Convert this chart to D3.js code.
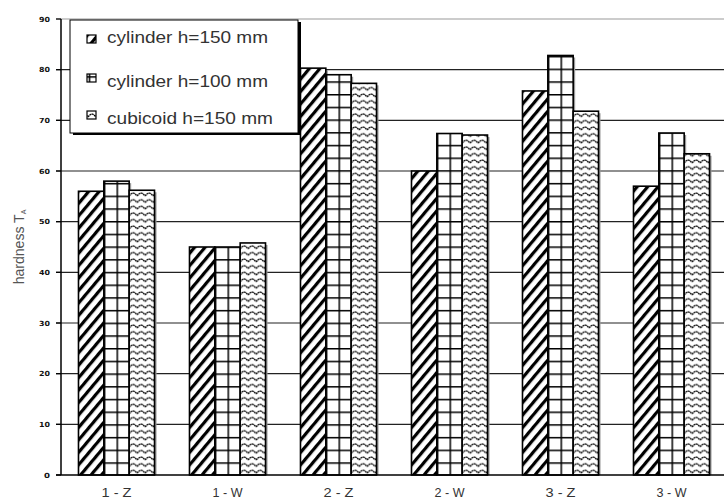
<!DOCTYPE html>
<html><head><meta charset="utf-8">
<script src="https://cdn.jsdelivr.net/npm/d3@7"></script>
<style>body{margin:0;background:#fff}svg{display:block}</style>
</head><body>
<svg id="c" width="724" height="501"></svg>
<script>
const categories = ["1 - Z","1 - W","2 - Z","2 - W","3 - Z","3 - W"];
const seriesNames = ["cylinder h=150 mm","cylinder h=100 mm","cubicoid h=150 mm"];
const cyl150 = [56, 45, 80.3, 60, 75.8, 57];
const cyl100 = [58, 45, 79, 67.4, 82.8, 67.5];
const cub150 = [56.2, 45.8, 77.3, 67.1, 71.8, 63.4];
const yTicks = [0,10,20,30,40,50,60,70,80,90];
const seriesValues = [cyl150, cyl100, cub150];
const patternIds = ["hatch","grid","wave"];

const svg = d3.select("#c");
const x0 = d3.scaleBand().domain(categories).range([61, 727]).padding(0);
const x1 = d3.scaleBand().domain(seriesNames).range([0, x0.bandwidth()]).paddingInner(0).paddingOuter(0.69);
const y = d3.scaleLinear().domain([0, 90]).range([475, 19]);
const bw = x1.bandwidth();

const defs = svg.append("defs");
// hatch
const ph = defs.append("pattern").attr("id","hatch").attr("patternUnits","userSpaceOnUse")
  .attr("width",8).attr("height",8).attr("patternTransform","rotate(40)");
ph.append("rect").attr("width",8).attr("height",8).attr("fill","#fff");
ph.append("rect").attr("x",0).attr("width",3.2).attr("height",8).attr("fill","#000");
// grid
const gw = bw/2, gh = 12.7;
const pg = defs.append("pattern").attr("id","grid").attr("patternUnits","userSpaceOnUse")
  .attr("width",gw).attr("height",gh);
pg.append("rect").attr("width",gw).attr("height",gh).attr("fill","#fff");
pg.append("rect").attr("x",0).attr("y",0).attr("width",1.5).attr("height",gh).attr("fill","#000");
pg.append("rect").attr("x",0).attr("y",0).attr("width",gw).attr("height",1.5).attr("fill","#000");
// wave
const pw = defs.append("pattern").attr("id","wave").attr("patternUnits","userSpaceOnUse")
  .attr("width",8).attr("height",6.6);
pw.append("rect").attr("width",8).attr("height",6.6).attr("fill","#fff");
pw.append("path").attr("d","M0,4.8 L2,2.6 L4,1.8 L6,2.6 L8,4.8")
  .attr("stroke","#000").attr("stroke-width",1.3).attr("stroke-dasharray","2,0.5").attr("fill","none");

// gridlines
svg.append("g").selectAll("line").data(yTicks.filter(d=>d>0)).join("line")
  .attr("x1",56).attr("x2",724).attr("y1",d=>y(d)).attr("y2",d=>y(d))
  .attr("stroke",d=>d===90?"#999":"#222").attr("stroke-width",1.2);

// tick labels
svg.append("g").selectAll("text").data(yTicks).join("text")
  .attr("x",50).attr("y",d=>y(d)+2.5).attr("text-anchor","end")
  .attr("font-family","DejaVu Sans").attr("font-weight","bold").attr("font-size",7)
  .attr("textLength",d=>d===0?6:11).attr("lengthAdjust","spacingAndGlyphs")
  .attr("fill","#111").text(d=>d);

// bars
const groups = svg.append("g").selectAll("g").data(categories).join("g");
groups.each(function(cat, ci){
  const g = d3.select(this);
  seriesNames.forEach((s, si) => {
    const v = seriesValues[si][ci];
    const bx = x0(cat) + x1(s);
    const top = y(v), h = y(0) - y(v);
    const bg = g.append("g").attr("transform",`translate(${bx},${y(0)})`);
    bg.append("rect").attr("x",2).attr("y",top - y(0) + 2).attr("width",bw).attr("height",h-2).attr("fill","#999");
    bg.append("rect").attr("x",0).attr("y",top - y(0)).attr("width",bw).attr("height",h)
      .attr("fill",`url(#${patternIds[si]})`).attr("stroke","#000").attr("stroke-width",1.6);
  });
});

// axes lines
svg.append("line").attr("x1",61).attr("x2",61).attr("y1",19).attr("y2",475).attr("stroke","#000").attr("stroke-width",1.5);
svg.append("line").attr("x1",56).attr("x2",724).attr("y1",475).attr("y2",475).attr("stroke","#000").attr("stroke-width",1.6);
svg.append("g").selectAll("line").data(yTicks).join("line")
  .attr("x1",56).attr("x2",61).attr("y1",d=>y(d)).attr("y2",d=>y(d)).attr("stroke","#000").attr("stroke-width",1.2);

// x labels
svg.append("g").selectAll("text").data(categories).join("text")
  .attr("x",d=>x0(d)+x0.bandwidth()/2).attr("y",497).attr("text-anchor","middle")
  .attr("font-family","Liberation Sans").attr("font-size",12.5).attr("fill","#333")
  .attr("textLength",30).attr("lengthAdjust","spacingAndGlyphs").text(d=>d);

// y title
const yt = svg.append("text").attr("transform","translate(24,247) rotate(-90)")
  .attr("text-anchor","middle").attr("font-family","Liberation Sans").attr("font-size",14).attr("fill","#555");
yt.append("tspan").attr("textLength",70).attr("lengthAdjust","spacingAndGlyphs").text("hardness T");
yt.append("tspan").attr("font-size",7).attr("dy",2).text("A");

// legend
const lg = svg.append("g");
lg.append("rect").attr("x",73).attr("y",22).attr("width",228).attr("height",113).attr("fill","#000");
lg.append("rect").attr("x",70).attr("y",20).attr("width",228).attr("height",113).attr("fill","#fff").attr("stroke","#000").attr("stroke-width",1);
const legY = [43, 87, 124];
const legLen = [161, 161, 166];
const iconY = [35, 74, 111];
seriesNames.forEach((s, i) => {
  lg.append("rect").attr("x",87).attr("y",iconY[i]).attr("width",9).attr("height",8)
    .attr("fill",`url(#${patternIds[i]})`).attr("stroke","#000").attr("stroke-width",1.2);
  lg.append("text").attr("x",107).attr("y",legY[i]).attr("font-family","Liberation Sans").attr("font-size",16.5)
    .attr("fill","#333").attr("textLength",legLen[i]).attr("lengthAdjust","spacingAndGlyphs").text(s);
});
</script>
</body></html>
